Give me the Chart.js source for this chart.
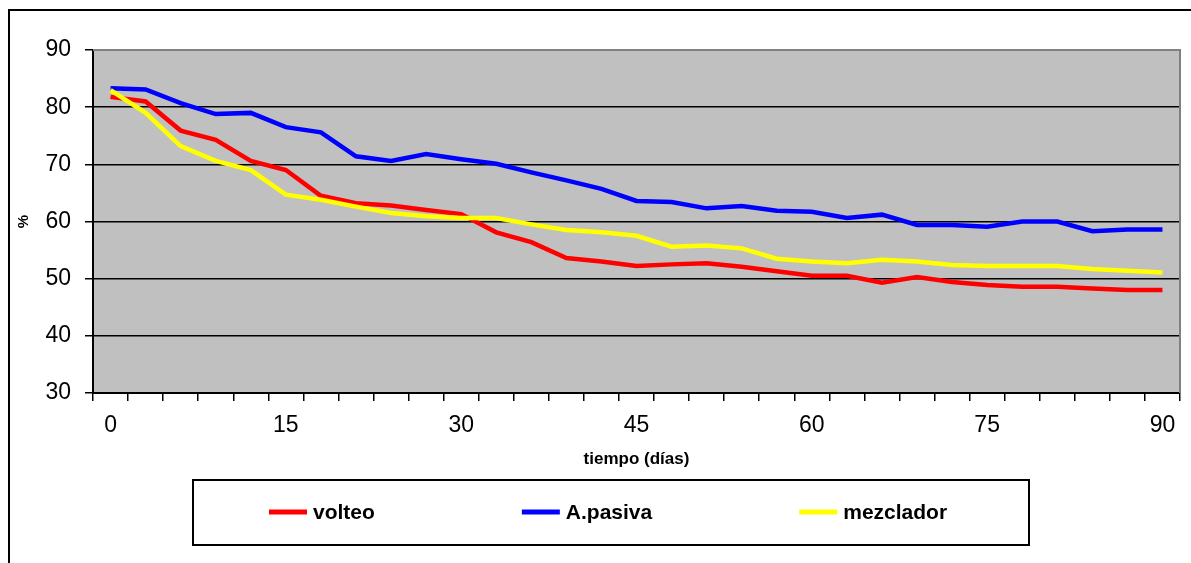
<!DOCTYPE html>
<html>
<head>
<meta charset="utf-8">
<script src="https://cdn.jsdelivr.net/npm/chart.js@4/dist/chart.umd.min.js"></script>
<style>
  html, body { margin: 0; padding: 0; background: #fff; }
  #wrap { width: 1191px; height: 563px; }
</style>
</head>
<body>
<div id="wrap"><canvas id="myChart" width="1191" height="563"></canvas></div>
<script>
// dias de muestreo (cada 3 dias)
const dias = ['0','3','6','9','12','15','18','21','24','27','30','33','36','39','42','45',
              '48','51','54','57','60','63','66','69','72','75','78','81','84','87','90'];

const volteo = [81.8, 81.0, 75.9, 74.3, 70.6, 69.0, 64.5, 63.2, 62.8, 62.0, 61.3,
                58.1, 56.4, 53.6, 53.0, 52.2, 52.5, 52.7, 52.1, 51.3, 50.5,
                50.5, 49.3, 50.3, 49.4, 48.9, 48.6, 48.6, 48.3, 48.0, 48.0];
const apasiva = [83.3, 83.1, 80.7, 78.8, 79.0, 76.5, 75.6, 71.4, 70.6, 71.8, 70.9,
                 70.1, 68.6, 67.2, 65.7, 63.6, 63.4, 62.3, 62.7, 61.9, 61.7,
                 60.6, 61.2, 59.4, 59.4, 59.1, 60.0, 60.0, 58.3, 58.6, 58.6];
const mezclador = [83.0, 79.0, 73.2, 70.6, 69.0, 64.7, 63.8, 62.6, 61.5, 60.9, 60.6,
                   60.6, 59.5, 58.5, 58.1, 57.5, 55.6, 55.8, 55.3, 53.5, 53.0,
                   52.7, 53.3, 53.0, 52.4, 52.2, 52.2, 52.2, 51.7, 51.4, 51.1];

const yMin = 30, yMax = 90, yStep = 10;

Chart.defaults.font.family = '"Liberation Sans", Arial, sans-serif';
Chart.defaults.color = '#000';

// fondo gris, marco exterior y leyenda con recuadro
const marco = {
  id: 'marco',
  beforeDraw(chart) {
    const {ctx, chartArea: a} = chart;
    ctx.save();
    ctx.fillStyle = '#fff';
    ctx.fillRect(0, 0, chart.width, chart.height);
    ctx.fillStyle = '#c0c0c0';
    ctx.fillRect(a.left, a.top, a.right - a.left, a.bottom - a.top);
    ctx.strokeStyle = '#000';
    ctx.lineWidth = 2;
    ctx.beginPath();
    ctx.moveTo(9, chart.height);
    ctx.lineTo(9, 10);
    ctx.lineTo(chart.width, 10);
    ctx.stroke();
    ctx.restore();
  },
  afterDraw(chart) {
    const {ctx, chartArea: a} = chart;
    ctx.save();
    ctx.strokeStyle = '#808080';
    ctx.lineWidth = 2;
    ctx.beginPath();
    ctx.moveTo(a.left, a.top);
    ctx.lineTo(a.right, a.top);
    ctx.lineTo(a.right, a.bottom);
    ctx.stroke();

    // leyenda: items separados por el mismo hueco
    ctx.strokeStyle = '#000';
    ctx.lineWidth = 2;
    ctx.strokeRect(193, 480, 836, 65);
    ctx.font = 'bold 21px "Liberation Sans", Arial, sans-serif';
    ctx.textBaseline = 'middle';
    ctx.fillStyle = '#000';
    let x = 269;
    chart.data.datasets.forEach((ds) => {
      ctx.strokeStyle = ds.borderColor;
      ctx.lineWidth = 5;
      ctx.beginPath();
      ctx.moveTo(x, 512);
      ctx.lineTo(x + 38, 512);
      ctx.stroke();
      ctx.fillText(ds.label, x + 44, 513);
      x += 44 + ctx.measureText(ds.label).width + 147;
    });
    ctx.restore();
  }
};

const ctx = document.getElementById('myChart').getContext('2d');
const chart = new Chart(ctx, {
  type: 'line',
  data: {
    labels: dias,
    datasets: [{
      label: 'volteo',
      data: volteo,
      borderColor: '#ff0000',
      order: 2
    }, {
      label: 'A.pasiva',
      data: apasiva,
      borderColor: '#0000ff',
      order: 1
    }, {
      label: 'mezclador',
      data: mezclador,
      borderColor: '#ffff00',
      order: 0
    }]
  },
  options: {
    responsive: false,
    animation: false,
    elements: {
      line: { borderWidth: 4.5, tension: 0, fill: false },
      point: { radius: 0, hoverRadius: 0 }
    },
    layout: { padding: { left: 0, top: 50, right: 11, bottom: 92 } },
    plugins: {
      legend: { display: false },
      tooltip: { enabled: false }
    },
    scales: {
      x: {
        type: 'category',
        offset: true,
        grid: {
          offset: true,
          drawOnChartArea: false,
          drawTicks: true,
          tickLength: 8,
          color: '#000',
          lineWidth: 1.5
        },
        border: { color: '#000', width: 2 },
        ticks: {
          autoSkip: false,
          maxRotation: 0,
          padding: 11,
          font: { size: 23 },
          callback: function (val, idx) { return idx % 5 === 0 ? this.getLabelForValue(val) : ''; }
        },
        title: {
          display: true,
          text: 'tiempo (días)',
          font: { size: 17, weight: 'bold' },
          padding: { top: 4, bottom: 1 }
        },
        afterFit(scale) { scale.height = 78; }
      },
      y: {
        min: yMin,
        max: yMax,
        grid: {
          color: c => (c.tick && c.tick.value === yMax) ? '#808080' : '#000',
          tickColor: '#000',
          lineWidth: 1.5,
          tickLength: 8
        },
        border: { color: '#000', width: 2 },
        ticks: {
          stepSize: yStep,
          padding: 14,
          font: { size: 23 }
        },
        title: {
          display: true,
          text: '%',
          font: { size: 15, weight: 'bold' },
          padding: { top: 15, bottom: 0 }
        },
        afterFit(scale) { scale.width = 93; }
      }
    }
  },
  plugins: [marco]
});
</script>
</body>
</html>
